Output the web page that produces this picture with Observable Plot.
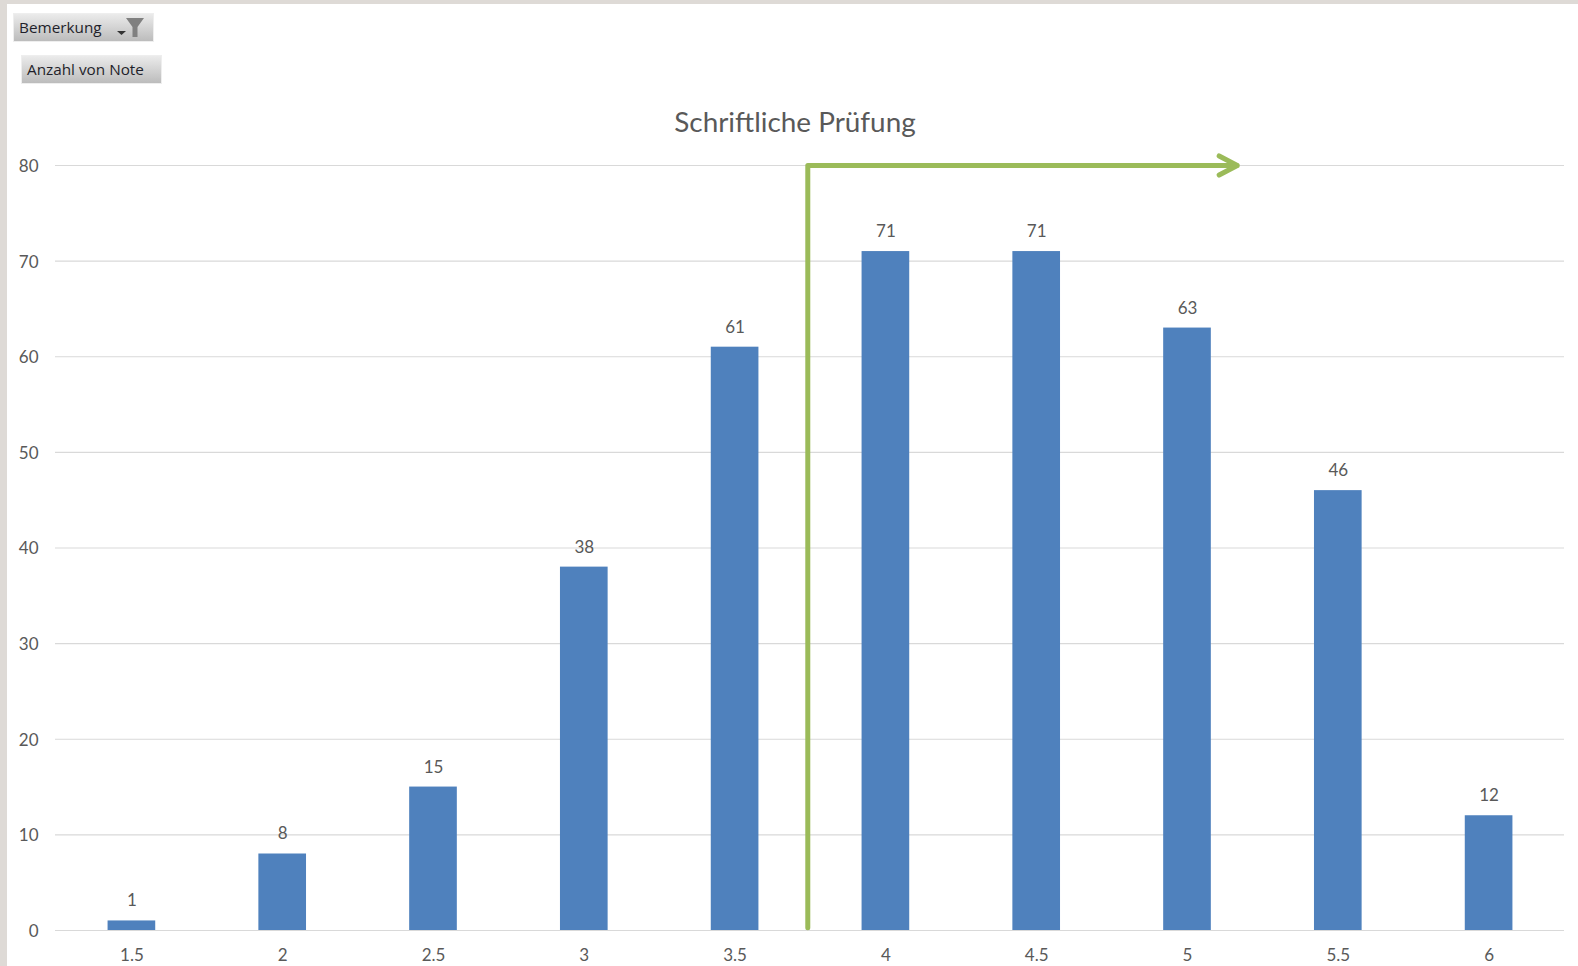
<!DOCTYPE html>
<html lang="de">
<head>
<meta charset="utf-8">
<script src="https://cdn.jsdelivr.net/npm/d3@7"></script>
<script src="https://cdn.jsdelivr.net/npm/@observablehq/plot@0.6"></script>
<style>
html,body{margin:0;padding:0;background:#fff;width:1578px;height:966px;overflow:hidden}
#page{position:relative;width:1578px;height:966px}
#chart{position:absolute;left:0;top:0}
#stripL{position:absolute;left:0;top:0;width:7px;height:966px;background:#dedad6}
#stripT{position:absolute;left:0;top:0;width:1578px;height:4px;background:#dedad6}
.btn{position:absolute;width:141px;height:29px;box-sizing:border-box;padding-left:5px;
 background:linear-gradient(#ebebeb,#bcbcbc);border:1px solid #eee;
 font:15.3px/27px "Open Sans",sans-serif;color:#1f1f2a;white-space:nowrap}
.btn svg{position:absolute;left:103px;top:2px}
#title{position:absolute;left:545px;width:500px;top:103px;text-align:center;
 font:27.9px/36px Lato,sans-serif;color:#595959}
</style>
</head>
<body>
<div id="page">
 <div id="chart"></div>
 <div id="stripL"></div><div id="stripT"></div>
 <div class="btn" style="left:13px;top:13px">Bemerkung
  <svg width="30" height="24" viewBox="0 0 30 24"><path d="M0 15h9l-4.5 4z" fill="#333"/><path d="M9 2h18l-6.5 9v10h-5V11z" fill="#808080"/></svg>
 </div>
 <div class="btn" style="left:21px;top:55px">Anzahl von Note</div>
 <div id="title">Schriftliche Prüfung</div>
</div>
<script>
const notes  = [1.5, 2, 2.5, 3, 3.5, 4, 4.5, 5, 5.5, 6];
const counts = [1, 8, 15, 38, 61, 71, 71, 63, 46, 12];
const yTicks = [0, 10, 20, 30, 40, 50, 60, 70, 80];
const barHalf = 0.079;

const arrowX = [3.741, 3.741, 5.165];
const arrowY = [0.3, 80, 80];
const headX  = [5.105, 5.165, 5.105];
const headY  = [81.0, 80, 79.0];

const rows = notes.map((n, i) => ({note: n, count: counts[i]}));
const shaft = arrowX.map((x, i) => ({x, y: arrowY[i]}));
const head  = headX.map((x, i) => ({x, y: headY[i]}));

const chart = Plot.plot({
  width: 1578, height: 966,
  marginLeft: 55, marginRight: 14, marginTop: 165, marginBottom: 36,
  style: {fontFamily: "Lato, sans-serif", background: "transparent", overflow: "visible"},
  x: {domain: [1.2467, 6.25], ticks: notes, label: null},
  y: {domain: [0, 80], ticks: yTicks, label: null},
  marks: [
    Plot.ruleY(yTicks, {stroke: "#d9d9d9", strokeWidth: 1.2}),
    Plot.rectY(rows, {x1: d => d.note - barHalf, x2: d => d.note + barHalf, y1: 0, y2: "count", fill: "#4f81bd"}),
    Plot.text(rows, {x: "note", y: "count", text: d => String(d.count), dy: -20, fontSize: 17, fill: "#595959"}),
    Plot.axisX({ticks: notes, tickSize: 0, tickPadding: 18, fontSize: 17, color: "#595959", tickFormat: d => String(d), label: null}),
    Plot.axisY({ticks: yTicks, tickSize: 0, tickPadding: 17, dy: 1, fontSize: 17, color: "#595959", label: null}),
    Plot.line(shaft, {x: "x", y: "y", stroke: "#9bbb59", strokeWidth: 5, strokeLinejoin: "round"}),
    Plot.line(head, {x: "x", y: "y", stroke: "#9bbb59", strokeWidth: 5, strokeLinecap: "round", strokeLinejoin: "miter"})
  ]
});
document.getElementById("chart").appendChild(chart);
</script>
</body>
</html>
